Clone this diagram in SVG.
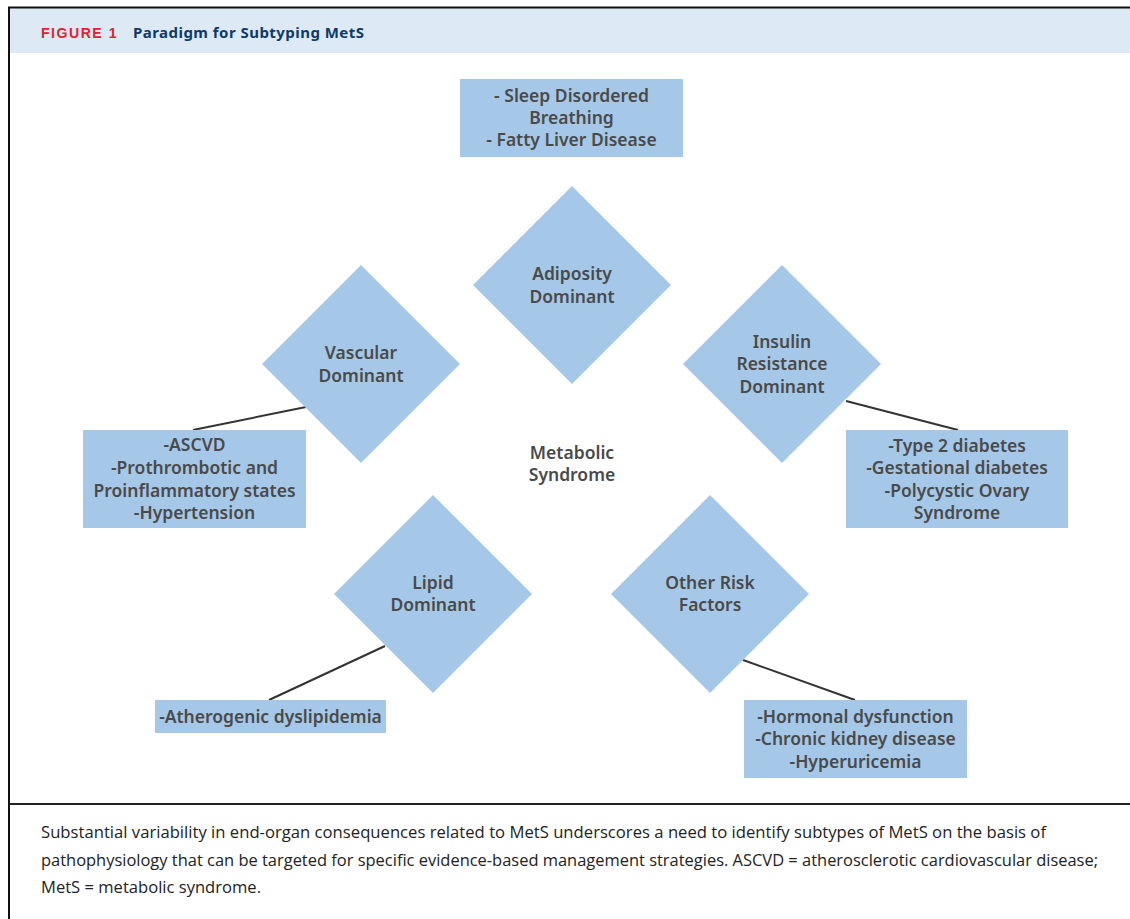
<svg xmlns="http://www.w3.org/2000/svg" width="1130" height="919" viewBox="0 0 1130 919">
<style>
.shape{fill:#a6c8e8;}
.t{font-family:"Noto Sans","Liberation Sans",sans-serif;font-size:17.5px;font-weight:600;fill:#4a4a4a;text-anchor:middle;}
.conn{stroke:#333;stroke-width:2;fill:none;}
.cap{font-family:"Open Sans","Liberation Sans",sans-serif;font-size:15.5px;fill:#222;}
</style>
<rect x="0" y="0" width="1130" height="919" fill="#fff"/>
<rect x="9" y="8" width="1121" height="45" fill="#dde9f5"/>
<line x1="8" y1="7.5" x2="1130" y2="7.5" stroke="#111" stroke-width="2"/>
<line x1="9" y1="7" x2="9" y2="919" stroke="#111" stroke-width="2"/>
<line x1="9" y1="804" x2="1130" y2="804" stroke="#222" stroke-width="2"/>
<text x="41" y="38" font-family="'Liberation Sans',Arial,sans-serif" font-weight="bold" font-size="14" letter-spacing="1.5" fill="#e0242f" textLength="77" lengthAdjust="spacingAndGlyphs">FIGURE 1</text>
<text x="133" y="38" font-family="'Noto Sans','Liberation Sans',sans-serif" font-weight="bold" font-size="15" fill="#0d3a6b" textLength="231">Paradigm for Subtyping MetS</text>

<g id="connectors">
<line class="conn" x1="306" y1="407" x2="193" y2="430"/>
<line class="conn" x1="846" y1="401" x2="958" y2="430"/>
<line class="conn" x1="385" y1="646" x2="269" y2="700"/>
<line class="conn" x1="743" y1="660" x2="855" y2="700"/>
</g>

<g id="node-top-box">
<rect class="shape" x="460" y="79" width="223" height="78"/>
<text class="t" x="571.5" y="102">- Sleep Disordered</text>
<text class="t" x="571.5" y="124">Breathing</text>
<text class="t" x="571.5" y="146">- Fatty Liver Disease</text>
</g>
<g id="node-adiposity">
<polygon class="shape" points="572,186 671,285 572,384 473,285"/>
<text class="t" x="572" y="280">Adiposity</text>
<text class="t" x="572" y="303">Dominant</text>
</g>
<g id="node-vascular">
<polygon class="shape" points="361,265 460,364 361,463 262,364"/>
<text class="t" x="361" y="359">Vascular</text>
<text class="t" x="361" y="382">Dominant</text>
</g>
<g id="node-insulin">
<polygon class="shape" points="782,265 881,364 782,463 683,364"/>
<text class="t" x="782" y="348">Insulin</text>
<text class="t" x="782" y="370">Resistance</text>
<text class="t" x="782" y="393">Dominant</text>
</g>
<g id="node-metabolic">
<text class="t" x="572" y="459">Metabolic</text>
<text class="t" x="572" y="481">Syndrome</text>
</g>
<g id="node-vascular-box">
<rect class="shape" x="83" y="430" width="223" height="98"/>
<text class="t" x="194.5" y="451">-ASCVD</text>
<text class="t" x="194.5" y="474">-Prothrombotic and</text>
<text class="t" x="194.5" y="497">Proinflammatory states</text>
<text class="t" x="194.5" y="519">-Hypertension</text>
</g>
<g id="node-insulin-box">
<rect class="shape" x="846" y="430" width="222" height="98"/>
<text class="t" x="957" y="452">-Type 2 diabetes</text>
<text class="t" x="957" y="474">-Gestational diabetes</text>
<text class="t" x="957" y="497">-Polycystic Ovary</text>
<text class="t" x="957" y="519">Syndrome</text>
</g>
<g id="node-lipid">
<polygon class="shape" points="433,495 532,594 433,693 334,594"/>
<text class="t" x="433" y="589">Lipid</text>
<text class="t" x="433" y="611">Dominant</text>
</g>
<g id="node-other">
<polygon class="shape" points="710,495 809,594 710,693 611,594"/>
<text class="t" x="710" y="589">Other Risk</text>
<text class="t" x="710" y="611">Factors</text>
</g>
<g id="node-lipid-box">
<rect class="shape" x="155" y="700" width="231" height="33"/>
<text class="t" x="270.5" y="723">-Atherogenic dyslipidemia</text>
</g>
<g id="node-other-box">
<rect class="shape" x="744" y="700" width="223" height="78"/>
<text class="t" x="855.5" y="723">-Hormonal dysfunction</text>
<text class="t" x="855.5" y="745">-Chronic kidney disease</text>
<text class="t" x="855.5" y="768">-Hyperuricemia</text>
</g>

<g id="caption">
<text class="cap" x="41" y="838" textLength="1005" lengthAdjust="spacingAndGlyphs">Substantial variability in end-organ consequences related to MetS underscores a need to identify subtypes of MetS on the basis of</text>
<text class="cap" x="41" y="866" textLength="1057" lengthAdjust="spacingAndGlyphs">pathophysiology that can be targeted for specific evidence-based management strategies. ASCVD = atherosclerotic cardiovascular disease;</text>
<text class="cap" x="41" y="893" textLength="220" lengthAdjust="spacingAndGlyphs">MetS = metabolic syndrome.</text>
</g>
</svg>
